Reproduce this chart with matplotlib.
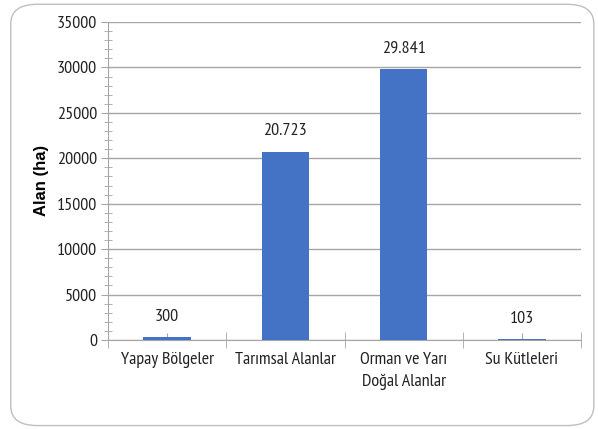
import matplotlib
matplotlib.use("Agg")
import matplotlib.pyplot as plt
from matplotlib.patches import FancyBboxPatch
from matplotlib.ticker import MultipleLocator

categories = ["Yapay Bölgeler", "Tarımsal Alanlar", "Orman ve Yarı\nDoğal Alanlar", "Su Kütleleri"]
values = [300, 20723, 29841, 103]
value_labels = ["300", "20.723", "29.841", "103"]
y_ticks = [0, 5000, 10000, 15000, 20000, 25000, 30000, 35000]

plt.rcParams['font.family'] = ['PT Sans Narrow', 'DejaVu Sans']
grid_col = "#a6a6a6"
txt_col = "#222222"
fs = 13

fig = plt.figure(figsize=(5.98, 4.29), dpi=100)
ax = fig.add_axes([0.1806, 0.2075, 0.791, 0.7412])

# rounded chart frame
frame = FancyBboxPatch((0.018, 0.008), 0.975, 0.982, boxstyle="round,pad=0,rounding_size=0.045",
                       transform=fig.transFigure, fc="white", ec="#bfbfbf", lw=1.0, zorder=-10)
fig.patches.append(frame)
ax.set_facecolor("none")

x = range(len(categories))
ax.bar(x, values, width=0.4, color="#4472c4", zorder=3)
for xi, v, lab in zip(x, values, value_labels):
    ax.annotate(lab, (xi, v), xytext=(0, 9), textcoords="offset points",
                ha="center", va="bottom", fontsize=fs, color=txt_col)

ax.set_xlim(-0.5, len(categories) - 0.5)
ax.set_ylim(0, 35000)
ax.set_yticks(y_ticks)
ax.yaxis.set_minor_locator(MultipleLocator(1000))
ax.yaxis.grid(True, color=grid_col, lw=1.0, zorder=0)
ax.set_xticks(list(x))
ax.set_xticklabels(categories, fontsize=fs, color=txt_col, linespacing=1.45)
ax.set_xticks([i - 0.5 for i in range(len(categories) + 1)], minor=True)
ax.tick_params(axis="y", which="major", labelsize=fs, labelcolor=txt_col,
               color=grid_col, length=5, direction="out", pad=3)
ax.tick_params(axis="y", which="minor", color=grid_col, length=6, direction="inout")
ax.tick_params(axis="x", which="major", color=grid_col, length=5, direction="in", pad=9)
ax.tick_params(axis="x", which="minor", color=grid_col, length=12, direction="inout")

for s in ["top", "right"]:
    ax.spines[s].set_visible(False)
for s in ["left", "bottom"]:
    ax.spines[s].set_color(grid_col)

fig.text(0.07, 0.58, "Alan (ha)", rotation=90, ha="center", va="center",
         fontsize=12, fontweight="bold", family=["Liberation Sans", "DejaVu Sans"])

fig.savefig("out.png", dpi=100)
